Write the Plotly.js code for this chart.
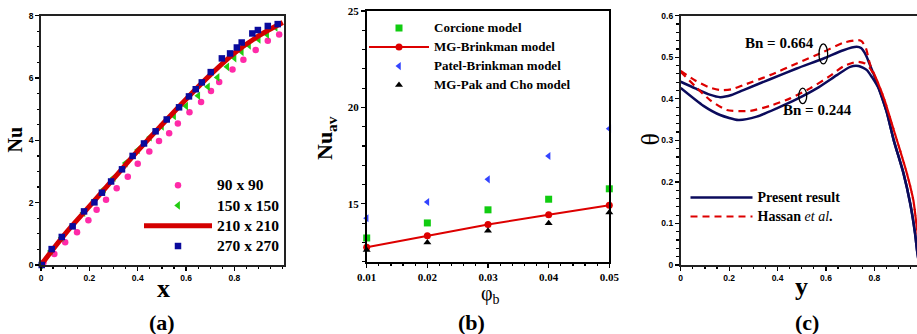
<!DOCTYPE html>
<html>
<head>
<meta charset="utf-8">
<script src="https://cdn.plot.ly/plotly-3.0.1.min.js"></script>
<style>html,body{margin:0;padding:0;background:#fff;}#chart{width:917px;height:334px;}</style>
</head>
<body>
<div id="chart"></div>
<script>
// ---------- Panel (a): grid independence, Nu vs x ----------
const aPinkX = [0.01,0.055,0.10,0.149,0.196,0.23,0.269,0.313,0.359,0.40,0.448,0.488,0.53,0.566,0.614,0.662,0.703,0.737,0.792,0.837,0.888,0.938,0.985];
const aPinkY = [0.07,0.35,0.73,1.05,1.44,1.77,2.09,2.46,2.83,3.25,3.64,3.98,4.23,4.54,4.90,5.23,5.58,5.87,6.27,6.59,6.90,7.20,7.40];
const aGreenX = [0,0.04,0.085,0.13,0.175,0.22,0.26,0.30,0.35,0.40,0.45,0.50,0.55,0.60,0.65,0.69,0.73,0.77,0.80,0.83,0.86,0.90,0.935,0.97];
const aGreenY = [0,0.45,0.88,1.27,1.68,2.06,2.43,2.80,3.27,3.69,4.10,4.45,4.78,5.10,5.43,5.72,6.02,6.36,6.64,6.84,7.05,7.24,7.40,7.62];
const aRedX = [0,0.1,0.2,0.3,0.4,0.5,0.6,0.7,0.8,0.9,1.0];
const aRedY = [0,1.0,1.88,2.77,3.66,4.50,5.32,6.10,6.80,7.35,7.78];
const aBlueX = [0.003,0.044,0.086,0.131,0.178,0.221,0.252,0.290,0.335,0.379,0.426,0.474,0.520,0.571,0.612,0.64,0.665,0.702,0.748,0.782,0.810,0.830,0.874,0.897,0.938,0.979];
const aBlueY = [0,0.51,0.90,1.24,1.72,2.01,2.32,2.68,3.07,3.50,3.90,4.29,4.67,5.06,5.41,5.64,5.86,6.19,6.63,6.79,6.98,7.14,7.43,7.54,7.67,7.73];
const aNames = ['90 x 90','150 x 150','210 x 210','270 x 270'];
const aXTicks = [0,0.2,0.4,0.6,0.8];

// ---------- Panel (b): Nu_av vs phi_b ----------
const bPhi = [0.01,0.02,0.03,0.04,0.05];
const bCorcione = [13.23,14.01,14.69,15.24,15.78];
const bMGBrinkman = [12.75,13.34,13.93,14.43,14.93];
const bPatel = [14.25,15.10,16.27,17.48,18.90];
const bPakCho = [12.61,13.00,13.61,14.00,14.55];
const bNames = ['Corcione model','MG-Brinkman model','Patel-Brinkman model','MG-Pak and Cho model'];

// ---------- Panel (c): theta vs y ----------
const cDescX = [0.80,0.82,0.85,0.88,0.92,0.948,0.968,0.976,0.985];
const cDescY = [0.455,0.422,0.37,0.30,0.221,0.148,0.076,0.036,0.0];
const cPresHighX = [0,0.06,0.12,0.163,0.21,0.259,0.369,0.479,0.59,0.672,0.727,0.745,0.765,0.782].concat(cDescX);
const cPresHighY = [0.441,0.425,0.41,0.404,0.409,0.421,0.447,0.473,0.497,0.517,0.525,0.522,0.505,0.481].concat(cDescY);
const cPresLowX = [0,0.094,0.163,0.238,0.314,0.397,0.479,0.562,0.645,0.70,0.734,0.769,0.79].concat(cDescX.slice(1));
const cPresLowY = [0.426,0.383,0.361,0.349,0.357,0.377,0.399,0.425,0.457,0.477,0.479,0.469,0.452].concat(cDescY.slice(1));
const cHasHighX = [0,0.06,0.12,0.163,0.21,0.259,0.369,0.479,0.59,0.672,0.734,0.748,0.765,0.782,0.81,0.84,0.88,0.934,0.961,0.975,1.0];
const cHasHighY = [0.467,0.444,0.427,0.421,0.423,0.433,0.457,0.485,0.513,0.535,0.541,0.538,0.522,0.483,0.445,0.40,0.325,0.221,0.156,0.092,0.0];
const cHasLowX = [0,0.06,0.121,0.19,0.287,0.369,0.452,0.534,0.617,0.672,0.727,0.761,0.78,0.81,0.84,0.88,0.934,0.961,0.975,1.0];
const cHasLowY = [0.465,0.43,0.397,0.373,0.371,0.383,0.401,0.425,0.455,0.478,0.489,0.485,0.475,0.445,0.40,0.325,0.221,0.156,0.092,0.0];
const cNames = ['Present result','Hassan <i style="font-weight:normal">et al</i>.'];
const cBnLabels = ['Bn = 0.664','Bn = 0.244'];

const SERIF = 'Liberation Serif, Times New Roman, serif';
const SANS = 'Liberation Sans, Arial, sans-serif';
const lg = (t, px) => '<span style="font-size:' + px + 'px">' + t + '</span>';

const traces = [
  // (a)
  {x:aPinkX, y:aPinkY, xaxis:'x', yaxis:'y', type:'scatter', mode:'markers', name:lg(aNames[0],15.5), legend:'legend',
   marker:{symbol:'circle', size:6.5, color:'#ff2aa8'}, cliponaxis:false},
  {x:aGreenX, y:aGreenY, xaxis:'x', yaxis:'y', type:'scatter', mode:'markers', name:lg(aNames[1],15.5), legend:'legend',
   marker:{symbol:'triangle-left', size:7.5, color:'#22cc11'}, cliponaxis:false},
  {x:aRedX, y:aRedY, xaxis:'x', yaxis:'y', type:'scatter', mode:'lines', name:lg(aNames[2],15.5), legend:'legend',
   line:{color:'#d40000', width:5, shape:'spline'}, cliponaxis:false},
  {x:aBlueX, y:aBlueY, xaxis:'x', yaxis:'y', type:'scatter', mode:'markers', name:lg(aNames[3],15.5), legend:'legend',
   marker:{symbol:'square', size:6.5, color:'#0a0a9c'}, cliponaxis:false},
  // (b)
  {x:bPhi, y:bCorcione, xaxis:'x2', yaxis:'y2', type:'scatter', mode:'markers', name:lg(bNames[0],13), legend:'legend2',
   marker:{symbol:'square', size:7, color:'#11cc11'}, cliponaxis:false},
  {x:bPhi, y:bMGBrinkman, xaxis:'x2', yaxis:'y2', type:'scatter', mode:'lines+markers', name:lg(bNames[1],13), legend:'legend2',
   line:{color:'#dd0000', width:2}, marker:{symbol:'circle', size:7, color:'#dd0000'}, cliponaxis:false},
  {x:bPhi, y:bPatel, xaxis:'x2', yaxis:'y2', type:'scatter', mode:'markers', name:lg(bNames[2],13), legend:'legend2',
   marker:{symbol:'triangle-left', size:7, color:'#3344ff'}, cliponaxis:false},
  {x:bPhi, y:bPakCho, xaxis:'x2', yaxis:'y2', type:'scatter', mode:'markers', name:lg(bNames[3],13), legend:'legend2',
   marker:{symbol:'triangle-up', size:7, color:'#000000'}, cliponaxis:false},
  // (c)
  {x:cPresHighX, y:cPresHighY, xaxis:'x3', yaxis:'y3', type:'scatter', mode:'lines', name:lg(cNames[0],14), legend:'legend3',
   line:{color:'#0b0b5c', width:2.5, shape:'spline', smoothing:0.6}},
  {x:cPresLowX, y:cPresLowY, xaxis:'x3', yaxis:'y3', type:'scatter', mode:'lines', name:lg(cNames[0],14), legend:'legend3', showlegend:false,
   line:{color:'#0b0b5c', width:2.5, shape:'spline', smoothing:0.6}},
  {x:cHasHighX, y:cHasHighY, xaxis:'x3', yaxis:'y3', type:'scatter', mode:'lines', name:lg(cNames[1],14), legend:'legend3',
   line:{color:'#dd0000', width:2.2, dash:'7px,5px', shape:'spline', smoothing:0.6}},
  {x:cHasLowX, y:cHasLowY, xaxis:'x3', yaxis:'y3', type:'scatter', mode:'lines', name:lg(cNames[1],14), legend:'legend3', showlegend:false,
   line:{color:'#dd0000', width:2.2, dash:'7px,5px', shape:'spline', smoothing:0.6}}
];

const W = 917, H = 334;
function dx(a,b){return [a/W, b/W];}
function dy(top,bottom){return [1-bottom/H, 1-top/H];}
function px(x){return x/W;}
function py(y){return 1-y/H;}

const sansTick = {family:SANS, size:8.5, color:'#000', weight:'bold'};
const serifTick = {family:SERIF, size:11, color:'#000', weight:'bold'};
const axisCommon = {ticks:'outside', ticklen:4, tickwidth:1.2, tickcolor:'#000', showgrid:false, zeroline:false, showline:true, linewidth:1.8};

function ann(x, y, text, size, bold, angle, yanchor){
  return {xref:'paper', yref:'paper', x:px(x), y:py(y), xanchor:'center', yanchor:yanchor||'middle', text:text, showarrow:false,
          textangle:angle||0, font:{family:SERIF, size:size, weight:bold?'bold':'normal', color:'#000'}};
}

const layout = {
  width:W, height:H,
  margin:{l:0,r:0,t:0,b:0},
  paper_bgcolor:'#fff', plot_bgcolor:'#fff',
  showlegend:true,
  font:{family:SERIF, color:'#000'},
  xaxis:Object.assign({}, axisCommon, {domain:dx(41,284), range:[0,1.005], tickvals:aXTicks,
    minor:{dtick:0.05, tick0:0, ticks:'outside', ticklen:2.5, tickcolor:'#000'},
    linecolor:'#222', mirror:true, tickfont:sansTick, anchor:'y'}),
  yaxis:Object.assign({}, axisCommon, {domain:dy(15.7,265), range:[0,8], dtick:2,
    minor:{dtick:0.5, ticks:'outside', ticklen:2.5, tickcolor:'#000'},
    linecolor:'#222', mirror:true, tickfont:sansTick, anchor:'x'}),
  xaxis2:Object.assign({}, axisCommon, {domain:dx(366.7,609.3), range:[0.01,0.05], tickvals:bPhi, ticktext:bPhi.map(v=>v.toFixed(2)),
    minor:{dtick:0.002, tick0:0.01, ticks:'outside', ticklen:2.5, tickcolor:'#000'},
    linecolor:'#000', mirror:true, tickfont:serifTick, anchor:'y2'}),
  yaxis2:Object.assign({}, axisCommon, {domain:dy(11,261.7), range:[12,25], tickvals:[15,20,25],
    minor:{dtick:1, tick0:0, ticks:'outside', ticklen:2.5, tickcolor:'#000'},
    linecolor:'#000', mirror:true, tickfont:serifTick, anchor:'x2'}),
  xaxis3:Object.assign({}, axisCommon, {domain:dx(680.7,917), range:[0,0.976], tickvals:aXTicks,
    minor:{dtick:0.05, tick0:0, ticks:'outside', ticklen:2.5, tickcolor:'#000'},
    linecolor:'#222', mirror:true, tickfont:sansTick, anchor:'y3'}),
  yaxis3:Object.assign({}, axisCommon, {domain:dy(15.7,265), range:[0,0.6], dtick:0.1,
    minor:{dtick:0.02, tick0:0, ticks:'outside', ticklen:2.5, tickcolor:'#000'},
    linecolor:'#222', mirror:false, tickfont:sansTick, anchor:'x3'}),
  legend:{x:px(139), y:py(170), xanchor:'left', yanchor:'top', bgcolor:'rgba(0,0,0,0)', borderwidth:0,
    itemwidth:68, tracegroupgap:0, font:{family:SERIF, size:13.3, weight:'bold', color:'#000'}},
  legend2:{x:px(364), y:py(13.6), xanchor:'left', yanchor:'top', bgcolor:'rgba(0,0,0,0)', borderwidth:0,
    itemwidth:60, tracegroupgap:0, font:{family:SERIF, size:10.8, weight:'bold', color:'#000'}},
  legend3:{x:px(685.5), y:py(183), xanchor:'left', yanchor:'top', bgcolor:'rgba(0,0,0,0)', borderwidth:0,
    itemwidth:62, tracegroupgap:0, font:{family:SERIF, size:10.5, weight:'bold', color:'#000'}},
  annotations:[
    // axis titles
    ann(14.5, 140, 'Nu', 20, true, -90),
    ann(163, 288, 'x', 26, true),
    ann(326, 138, 'Nu<sub>av</sub>', 22, true, -90),
    ann(490, 280, 'φ<sub>b</sub>', 20, false, 0, 'top'),
    ann(649.5, 140, 'θ', 26, false, -90),
    ann(801, 286, 'y', 26, true),
    // panel labels
    ann(162, 322, '(a)', 22, true),
    ann(471, 322, '(b)', 22, true),
    ann(807, 322, '(c)', 22, true),
    // Bn labels
    {xref:'x3', yref:'y3', x:0.406, y:0.534, text:cBnLabels[0], showarrow:false, font:{family:SERIF, size:15, weight:'bold', color:'#000'}},
    {xref:'x3', yref:'y3', x:0.567, y:0.373, text:cBnLabels[1], showarrow:false, font:{family:SERIF, size:15, weight:'bold', color:'#000'}}
  ],
  shapes:[
    {type:'circle', xref:'x3', yref:'y3', x0:0.571, x1:0.607, y0:0.484, y1:0.532, line:{color:'#000', width:1.3}},
    {type:'circle', xref:'x3', yref:'y3', x0:0.4875, x1:0.5205, y0:0.3885, y1:0.4255, line:{color:'#000', width:1.3}}
  ]
};

Plotly.newPlot('chart', traces, layout, {displayModeBar:false, staticPlot:true});
</script>
</body>
</html>
